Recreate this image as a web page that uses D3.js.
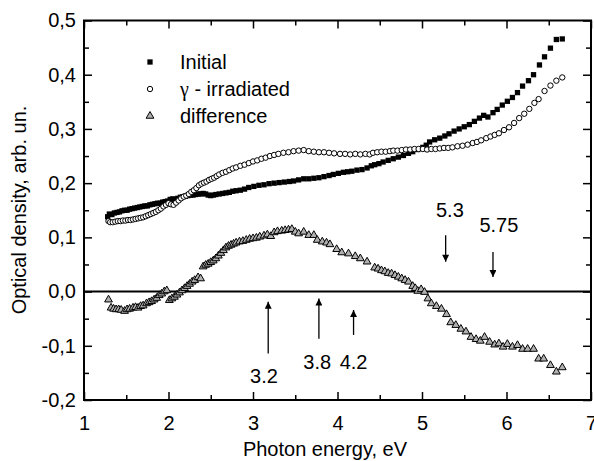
<!DOCTYPE html>
<meta charset="utf-8">
<style>
body { margin: 0; background: #fff; }
text { font-family: "Liberation Sans", Arial, sans-serif; fill: #000; }
.tick line { stroke: #000; stroke-width: 1.5px; }
.domain { display: none; }
</style>
<body>
<script src="https://cdn.jsdelivr.net/npm/d3@7"></script>
<script>
// chart values
var initial = [[1.28,0.138],[1.30,0.143],[1.33,0.142],[1.36,0.145],[1.39,0.146],[1.42,0.147],[1.45,0.149],[1.48,0.150],[1.51,0.150],[1.54,0.152],[1.57,0.153],[1.60,0.154],[1.63,0.155],[1.66,0.156],[1.69,0.157],[1.72,0.158],[1.75,0.158],[1.78,0.160],[1.81,0.161],[1.84,0.162],[1.87,0.163],[1.90,0.163],[1.93,0.165],[1.96,0.166],[1.99,0.167],[2.02,0.170],[2.05,0.171],[2.08,0.170],[2.11,0.172],[2.14,0.174],[2.17,0.175],[2.20,0.176],[2.23,0.177],[2.26,0.178],[2.29,0.178],[2.32,0.179],[2.35,0.180],[2.38,0.180],[2.41,0.181],[2.44,0.180],[2.47,0.178],[2.50,0.177],[2.53,0.178],[2.56,0.179],[2.60,0.180],[2.64,0.181],[2.68,0.182],[2.72,0.183],[2.76,0.185],[2.80,0.186],[2.85,0.187],[2.90,0.189],[2.95,0.192],[3.01,0.194],[3.07,0.196],[3.13,0.197],[3.19,0.199],[3.25,0.200],[3.31,0.201],[3.37,0.202],[3.43,0.203],[3.48,0.204],[3.54,0.206],[3.60,0.208],[3.66,0.208],[3.72,0.209],[3.78,0.210],[3.84,0.212],[3.90,0.214],[3.95,0.216],[4.01,0.218],[4.07,0.220],[4.12,0.221],[4.17,0.222],[4.23,0.224],[4.29,0.225],[4.35,0.228],[4.40,0.232],[4.44,0.234],[4.49,0.236],[4.54,0.239],[4.60,0.242],[4.66,0.245],[4.72,0.248],[4.78,0.251],[4.84,0.255],[4.89,0.258],[4.95,0.262],[5.01,0.266],[5.05,0.270],[5.09,0.276],[5.15,0.280],[5.21,0.283],[5.27,0.287],[5.32,0.291],[5.38,0.296],[5.44,0.300],[5.50,0.304],[5.56,0.308],[5.62,0.314],[5.68,0.320],[5.73,0.325],[5.78,0.322],[5.84,0.330],[5.89,0.336],[5.95,0.344],[6.01,0.351],[6.07,0.358],[6.13,0.367],[6.19,0.379],[6.26,0.389],[6.32,0.400],[6.39,0.418],[6.45,0.433],[6.52,0.449],[6.59,0.465],[6.66,0.466]];

var irradiated = [[1.29,0.130],[1.31,0.128],[1.34,0.128],[1.37,0.129],[1.40,0.130],[1.43,0.130],[1.46,0.131],[1.49,0.131],[1.52,0.132],[1.55,0.132],[1.58,0.133],[1.61,0.134],[1.64,0.135],[1.67,0.136],[1.70,0.137],[1.73,0.139],[1.76,0.141],[1.79,0.143],[1.82,0.145],[1.85,0.147],[1.88,0.150],[1.91,0.153],[1.94,0.157],[1.97,0.160],[2.00,0.163],[2.03,0.161],[2.06,0.160],[2.09,0.164],[2.12,0.168],[2.15,0.172],[2.18,0.175],[2.21,0.177],[2.24,0.180],[2.27,0.184],[2.30,0.187],[2.33,0.191],[2.36,0.196],[2.39,0.199],[2.42,0.201],[2.45,0.203],[2.48,0.206],[2.51,0.208],[2.54,0.210],[2.57,0.213],[2.60,0.216],[2.64,0.219],[2.68,0.221],[2.72,0.224],[2.76,0.227],[2.80,0.229],[2.85,0.232],[2.90,0.234],[2.95,0.237],[3.00,0.240],[3.05,0.242],[3.10,0.245],[3.15,0.247],[3.20,0.250],[3.25,0.252],[3.30,0.254],[3.36,0.256],[3.42,0.257],[3.48,0.259],[3.54,0.260],[3.60,0.261],[3.66,0.259],[3.72,0.258],[3.78,0.257],[3.84,0.257],[3.90,0.256],[3.96,0.255],[4.03,0.254],[4.09,0.254],[4.15,0.253],[4.21,0.254],[4.27,0.253],[4.33,0.254],[4.38,0.253],[4.42,0.256],[4.47,0.257],[4.52,0.258],[4.57,0.258],[4.62,0.259],[4.66,0.260],[4.71,0.260],[4.76,0.261],[4.81,0.262],[4.86,0.262],[4.91,0.263],[4.96,0.263],[5.01,0.263],[5.06,0.262],[5.11,0.263],[5.16,0.263],[5.21,0.264],[5.26,0.265],[5.31,0.265],[5.36,0.266],[5.42,0.268],[5.48,0.269],[5.54,0.271],[5.60,0.274],[5.65,0.276],[5.70,0.279],[5.76,0.283],[5.81,0.286],[5.86,0.289],[5.91,0.292],[5.97,0.298],[6.03,0.303],[6.09,0.311],[6.15,0.320],[6.21,0.328],[6.27,0.337],[6.33,0.348],[6.38,0.355],[6.45,0.370],[6.52,0.380],[6.59,0.389],[6.66,0.395]];

var difference = [[1.29,-0.015],[1.32,-0.030],[1.35,-0.032],[1.38,-0.033],[1.41,-0.033],[1.44,-0.034],[1.48,-0.036],[1.51,-0.033],[1.54,-0.032],[1.58,-0.030],[1.61,-0.029],[1.64,-0.030],[1.67,-0.027],[1.70,-0.026],[1.74,-0.022],[1.77,-0.020],[1.80,-0.018],[1.83,-0.015],[1.86,-0.012],[1.89,-0.007],[1.92,-0.004],[1.95,0.000],[1.98,0.002],[2.01,-0.016],[2.04,-0.013],[2.07,-0.010],[2.10,-0.006],[2.13,-0.002],[2.16,0.002],[2.19,0.006],[2.22,0.010],[2.25,0.014],[2.28,0.018],[2.31,0.021],[2.35,0.026],[2.38,0.024],[2.41,0.046],[2.44,0.049],[2.47,0.051],[2.50,0.054],[2.53,0.057],[2.56,0.061],[2.59,0.066],[2.62,0.071],[2.65,0.076],[2.68,0.081],[2.71,0.084],[2.74,0.086],[2.77,0.088],[2.80,0.090],[2.84,0.092],[2.88,0.093],[2.92,0.095],[2.96,0.097],[3.00,0.098],[3.04,0.099],[3.08,0.101],[3.13,0.103],[3.17,0.105],[3.21,0.102],[3.25,0.109],[3.29,0.111],[3.34,0.112],[3.38,0.113],[3.42,0.114],[3.46,0.115],[3.50,0.110],[3.54,0.107],[3.60,0.110],[3.66,0.104],[3.72,0.104],[3.76,0.095],[3.82,0.092],[3.87,0.090],[3.91,0.087],[3.99,0.078],[4.05,0.072],[4.13,0.070],[4.21,0.065],[4.27,0.061],[4.35,0.055],[4.44,0.044],[4.48,0.042],[4.52,0.039],[4.56,0.037],[4.60,0.034],[4.64,0.033],[4.68,0.030],[4.72,0.027],[4.76,0.024],[4.80,0.021],[4.84,0.018],[4.89,0.010],[4.92,0.006],[4.95,0.001],[4.99,0.004],[5.03,-0.001],[5.07,-0.013],[5.11,-0.022],[5.17,-0.027],[5.23,-0.032],[5.29,-0.042],[5.34,-0.057],[5.40,-0.062],[5.46,-0.069],[5.52,-0.074],[5.58,-0.084],[5.64,-0.088],[5.69,-0.091],[5.74,-0.084],[5.80,-0.093],[5.86,-0.098],[5.91,-0.096],[5.96,-0.102],[6.01,-0.097],[6.07,-0.102],[6.13,-0.099],[6.19,-0.106],[6.25,-0.106],[6.32,-0.106],[6.38,-0.124],[6.44,-0.124],[6.52,-0.136],[6.59,-0.148],[6.66,-0.140]];

// arrows marking peaks: x position, tail and tip values, label placement
var arrows = [
  {label: "3.2",  e: 3.18, from: -0.114, to: -0.019, le: 3.13, lv: -0.168},
  {label: "3.8",  e: 3.78, from: -0.087, to: -0.013, le: 3.76, lv: -0.142},
  {label: "4.2",  e: 4.19, from: -0.080, to: -0.034, le: 4.19, lv: -0.142},
  {label: "5.3",  e: 5.28, from: 0.104,  to: 0.055,  le: 5.33, lv: 0.137},
  {label: "5.75", e: 5.84, from: 0.073,  to: 0.027,  le: 5.91, lv: 0.109}
];

var legendNames = ["Initial", " - irradiated", "difference"];
var xTicks = [1, 2, 3, 4, 5, 6, 7];
var yTicks = [-0.2, -0.1, 0, 0.1, 0.2, 0.3, 0.4, 0.5];

var W = 594, H = 461;
var x = d3.scaleLinear().domain([1, 7]).range([84, 591]);
var y = d3.scaleLinear().domain([-0.2, 0.5]).range([400, 20.5]);

var comma = d3.formatLocale({decimal: ",", thousands: " ", grouping: [3], currency: ["", ""], minus: "-"}).format(".1f");

var svg = d3.select("body").append("svg")
    .attr("width", W)
    .attr("height", H);

// minor ticks every 0.5 eV / 0.05
var xMinor = d3.range(1.5, 7, 1);
var yMinor = d3.range(-0.15, 0.5, 0.1);

// bottom axis with labels
svg.append("g")
    .attr("transform", "translate(0," + y(-0.2) + ")")
    .call(d3.axisBottom(x).tickValues(xTicks).tickSize(-8).tickPadding(16).tickFormat(d3.format("d")))
    .call(g => g.selectAll("text").style("font-size", "20px"));
svg.append("g")
    .attr("transform", "translate(0," + y(-0.2) + ")")
    .call(d3.axisBottom(x).tickValues(xMinor).tickSize(-5).tickFormat(""));
// top axis
svg.append("g")
    .attr("transform", "translate(0," + y(0.5) + ")")
    .call(d3.axisTop(x).tickValues(xTicks).tickSize(-8).tickFormat(""));
svg.append("g")
    .attr("transform", "translate(0," + y(0.5) + ")")
    .call(d3.axisTop(x).tickValues(xMinor).tickSize(-5).tickFormat(""));
// left axis with labels
svg.append("g")
    .attr("transform", "translate(" + x(1) + ",0)")
    .call(d3.axisLeft(y).tickValues(yTicks).tickSize(-8).tickPadding(8).tickFormat(comma))
    .call(g => g.selectAll("text").style("font-size", "20px"));
svg.append("g")
    .attr("transform", "translate(" + x(1) + ",0)")
    .call(d3.axisLeft(y).tickValues(yMinor).tickSize(-5).tickFormat(""));
// right axis
svg.append("g")
    .attr("transform", "translate(" + x(7) + ",0)")
    .call(d3.axisRight(y).tickValues(yTicks).tickSize(-8).tickFormat(""));
svg.append("g")
    .attr("transform", "translate(" + x(7) + ",0)")
    .call(d3.axisRight(y).tickValues(yMinor).tickSize(-5).tickFormat(""));

// frame
svg.append("rect")
    .attr("x", x(1)).attr("y", y(0.5))
    .attr("width", x(7) - x(1)).attr("height", y(-0.2) - y(0.5))
    .attr("fill", "none").attr("stroke", "#000").attr("stroke-width", 2);

// zero line
svg.append("line")
    .attr("x1", x(1)).attr("x2", x(7))
    .attr("y1", y(0)).attr("y2", y(0))
    .attr("stroke", "#000").attr("stroke-width", 2);

// series
var sq = d3.symbol().type(d3.symbolSquare).size(28);
var tri = d3.symbol().type(d3.symbolTriangle).size(26);

svg.append("g").selectAll("path")
    .data(initial).enter().append("path")
    .attr("transform", d => "translate(" + x(d[0]) + "," + y(d[1]) + ")")
    .attr("d", sq)
    .attr("fill", "#000");

svg.append("g").selectAll("circle")
    .data(irradiated).enter().append("circle")
    .attr("cx", d => x(d[0])).attr("cy", d => y(d[1]))
    .attr("r", 2.7)
    .attr("fill", "#fff").attr("stroke", "#000").attr("stroke-width", 1);

svg.append("g").selectAll("path")
    .data(difference).enter().append("path")
    .attr("transform", d => "translate(" + x(d[0]) + "," + y(d[1]) + ")")
    .attr("d", tri)
    .attr("fill", "#b0b0b0").attr("stroke", "#000").attr("stroke-width", 1);

// arrows
svg.append("defs").append("marker")
    .attr("id", "head")
    .attr("viewBox", "0 0 10 10")
    .attr("refX", 10).attr("refY", 5)
    .attr("markerUnits", "userSpaceOnUse")
    .attr("markerWidth", 11).attr("markerHeight", 7)
    .attr("orient", "auto")
  .append("path")
    .attr("d", "M0,0L10,5L0,10Z")
    .attr("fill", "#000");

var ann = svg.append("g");
ann.selectAll("line")
    .data(arrows).enter().append("line")
    .attr("x1", d => x(d.e)).attr("x2", d => x(d.e))
    .attr("y1", d => y(d.from)).attr("y2", d => y(d.to))
    .attr("stroke", "#000").attr("stroke-width", 1.3)
    .attr("marker-end", "url(#head)");
ann.selectAll("text")
    .data(arrows).enter().append("text")
    .attr("x", d => x(d.le)).attr("y", d => y(d.lv))
    .attr("text-anchor", "middle")
    .style("font-size", "20px")
    .text(d => d.label);

// legend
var leg = svg.append("g");
var rowY = [62, 89, 116];
leg.append("path")
    .attr("transform", "translate(150," + rowY[0] + ")")
    .attr("d", sq).attr("fill", "#000");
leg.append("circle")
    .attr("cx", 150).attr("cy", rowY[1]).attr("r", 2.7)
    .attr("fill", "#fff").attr("stroke", "#000");
leg.append("path")
    .attr("transform", "translate(150," + rowY[2] + ")")
    .attr("d", tri).attr("fill", "#b0b0b0").attr("stroke", "#000").attr("stroke-width", 1);
var legText = leg.selectAll("text")
    .data(legendNames).enter().append("text")
    .attr("x", 180).attr("y", (d, i) => rowY[i] + 7)
    .style("font-size", "20px");
legText.filter((d, i) => i === 1).append("tspan")
    .style("font-family", "'Liberation Serif', 'Times New Roman', serif")
    .text("\u03b3");
legText.append("tspan").text(d => d);

// axis titles
svg.append("text")
    .attr("x", 325).attr("y", 456)
    .attr("text-anchor", "middle")
    .style("font-size", "20px")
    .text("Photon energy, eV");
svg.append("text")
    .attr("transform", "translate(26,210) rotate(-90)")
    .attr("text-anchor", "middle")
    .style("font-size", "20px")
    .text("Optical density, arb. un.");
</script>
</body>
